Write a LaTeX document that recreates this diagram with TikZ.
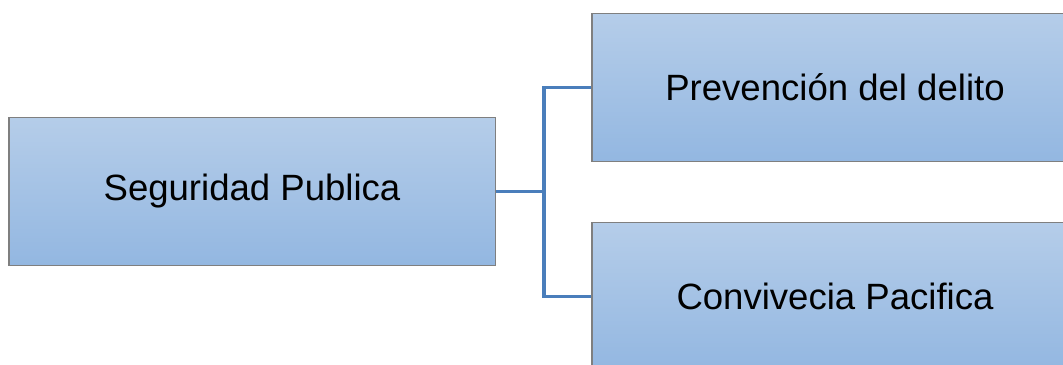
\documentclass[tikz,border=0pt]{standalone}
\usepackage{fontspec}
\setmainfont{Liberation Sans}
\definecolor{boxtop}{HTML}{B5CDE9}
\definecolor{boxbot}{HTML}{93B7E1}
\definecolor{boxline}{HTML}{7F7F7F}
\definecolor{linkcol}{HTML}{4A7EBB}
\begin{document}
\begin{tikzpicture}[x=0.025cm, y=-0.025cm, main node/.style={rectangle,draw=boxline,line width=0.8pt,top color=boxtop,bottom color=boxbot,minimum width=12.15cm,minimum height=3.7cm,inner sep=0pt}]%
\useasboundingbox (0,0) rectangle (1063,365);
\begin{scope}[every node/.style={font=\fontsize{26}{30}\selectfont}]
\node[main node] (sp) at (252,191.5) {Seguridad Publica};
\node[main node] (pd) at (835,87.5) {Prevención del delito};
\node[main node] (cp) at (835,296.5) {Convivecia Pacifica};
\end{scope}
\coordinate (jn) at (544,191.5);
\begin{scope}[every path/.style={draw=linkcol,line width=2.2pt}]
\draw (sp.east) -- (jn);
\draw (jn) |- (pd.west);
\draw (jn) |- (cp.west);
%\draw (jn) |- ();
\end{scope}
\end{tikzpicture}
\end{document}
